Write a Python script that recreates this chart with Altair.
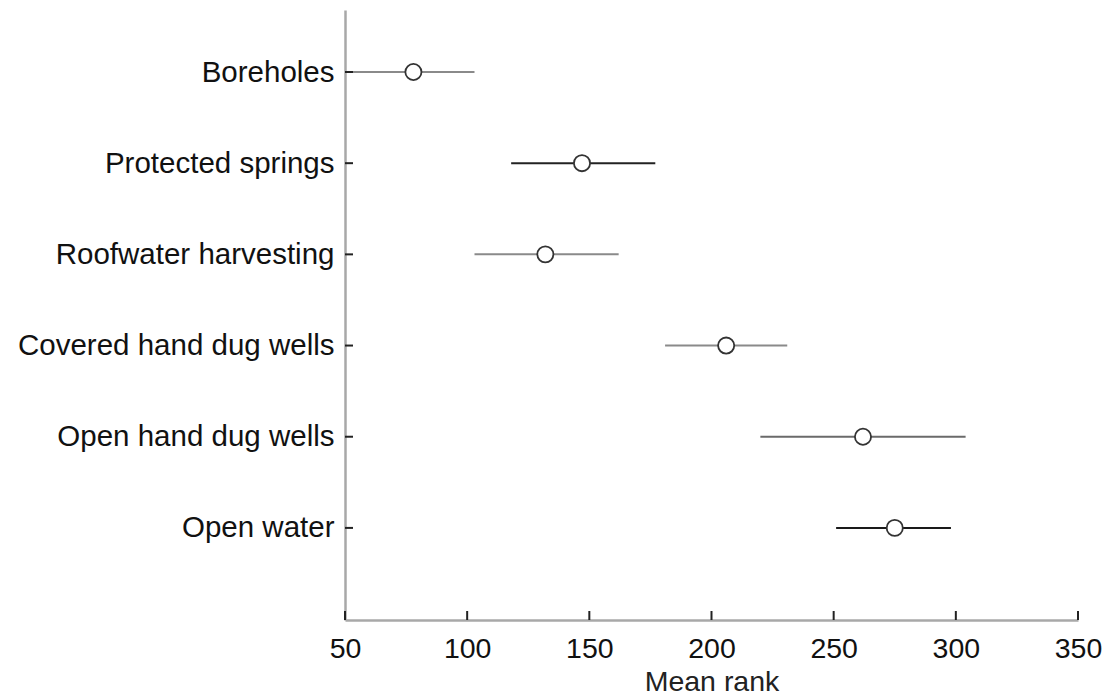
import altair as alt
import pandas as pd

categories = ["Boreholes", "Protected springs", "Roofwater harvesting",
              "Covered hand dug wells", "Open hand dug wells", "Open water"]
means = [78, 147, 132, 206, 262, 275]
lows = [53, 118, 103, 181, 220, 251]
highs = [103, 177, 162, 231, 304, 298]
x_ticks = [50, 100, 150, 200, 250, 300, 350]

line_colors = ["#8a8a8a", "#222222", "#8a8a8a", "#8a8a8a", "#6a6a6a", "#1a1a1a"]

df = pd.DataFrame({
    "cat": categories,
    "idx": list(range(1, len(categories) + 1)),
    "mean": means,
    "low": lows,
    "high": highs,
})
ticks_df = pd.DataFrame({"t": x_ticks})

W, H = 733, 610
label_expr = "[" + ",".join(f"'{c}'" for c in categories) + "][datum.value-1]"

xscale = alt.Scale(domain=[50, 350], nice=False, zero=False)
yscale = alt.Scale(domain=[0.32, 7.01], reverse=True, nice=False, zero=False)

font = "Liberation Sans"

x_axis = alt.Axis(values=x_ticks, ticks=False, grid=False, domainColor="#a8a8a8",
                  domainWidth=2.5, labelFontSize=28.5, labelFont=font, labelColor="#111",
                  labelPadding=14, title="Mean rank", titleFont=font, titleFontSize=28.5,
                  titleFontWeight="normal", titleColor="#222", titlePadding=5,
                  labelFlush=False)
y_axis = alt.Axis(values=list(range(1, len(categories) + 1)), labelExpr=label_expr,
                  ticks=False, grid=False, domainColor="#a8a8a8", domainWidth=2.5,
                  labelFontSize=29.5, labelFont=font, labelColor="#111", labelPadding=11,
                  labelLimit=500, title=None)

bars = alt.Chart(df).mark_rule(strokeWidth=2).encode(
    x=alt.X("low:Q", scale=xscale, axis=x_axis),
    x2="high:Q",
    y=alt.Y("idx:Q", scale=yscale, axis=y_axis),
    color=alt.Color("cat:N", scale=alt.Scale(domain=categories, range=line_colors), legend=None),
)

points = alt.Chart(df).mark_point(shape="circle", filled=True, fill="white",
                                  stroke="#333333", strokeWidth=1.8, size=260, opacity=1).encode(
    x=alt.X("mean:Q", scale=xscale),
    y=alt.Y("idx:Q", scale=yscale),
)

ytick = alt.Chart(df).mark_rule(color="#222", strokeWidth=2).encode(
    y=alt.Y("idx:Q", scale=yscale),
    x=alt.value(0),
    x2=alt.value(8),
)

xtick = alt.Chart(ticks_df).mark_rule(color="#222", strokeWidth=2).encode(
    x=alt.X("t:Q", scale=xscale),
    y=alt.value(H - 9),
    y2=alt.value(H),
)

chart = alt.layer(bars, points, ytick, xtick).properties(
    width=W, height=H,
    background="white",
    autosize=alt.AutoSizeParams(type="none"),
    padding={"left": 345, "top": 10, "right": 28, "bottom": 76},
).configure_view(strokeWidth=0)

chart.save("out.html", embed_options={"renderer": "svg", "actions": False})
